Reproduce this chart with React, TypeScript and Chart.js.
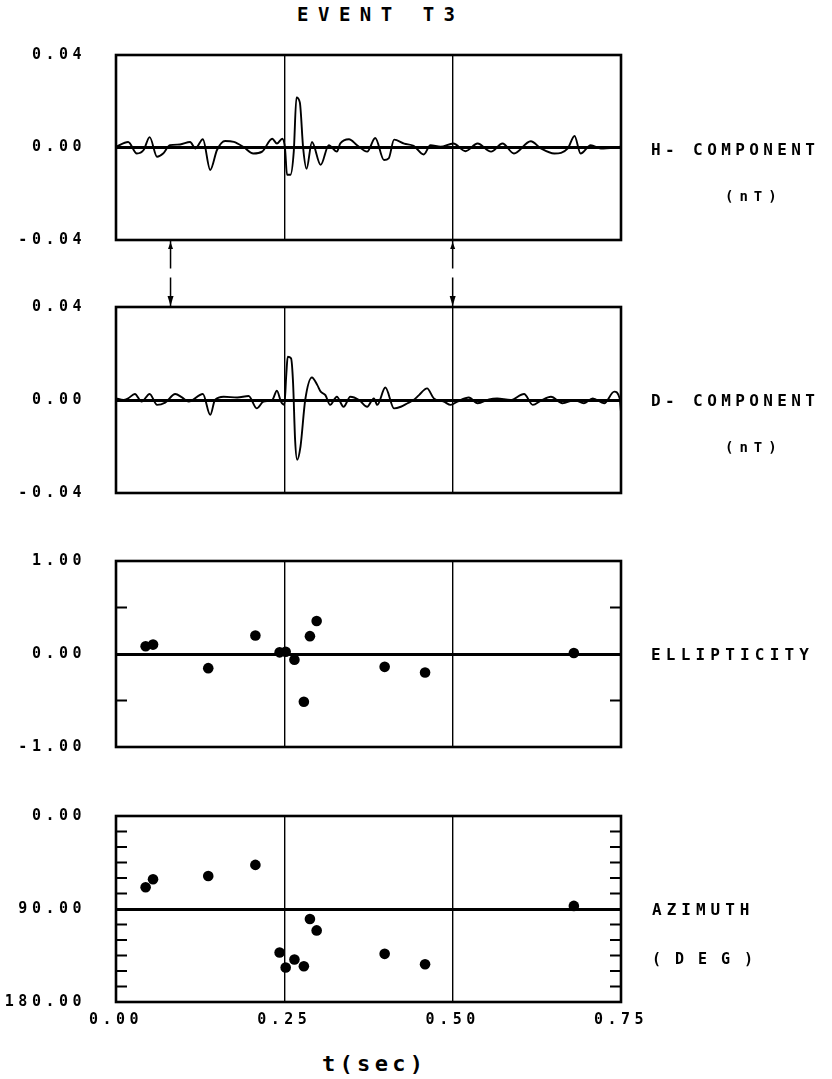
import React, { useEffect, useRef } from 'react';
import { Chart, registerables } from 'chart.js';

Chart.register(...registerables);

// ---------- data ----------
const hTimes = [0, 0.018, 0.031, 0.041, 0.05, 0.061, 0.07, 0.08, 0.095, 0.11, 0.118, 0.129, 0.14, 0.15, 0.162, 0.175, 0.189, 0.204, 0.217, 0.232, 0.239, 0.247, 0.251, 0.254, 0.259, 0.264, 0.268, 0.273, 0.278, 0.283, 0.291, 0.304, 0.316, 0.328, 0.333, 0.346, 0.358, 0.373, 0.385, 0.398, 0.405, 0.413, 0.428, 0.442, 0.457, 0.467, 0.482, 0.501, 0.519, 0.537, 0.557, 0.574, 0.591, 0.616, 0.631, 0.651, 0.671, 0.681, 0.69, 0.705, 0.72, 0.75];
const hValues = [0.0003, 0.0024, -0.0026, -0.0011, 0.0045, -0.004, -0.0026, 0.001, 0.0013, 0.0024, -0.0004, 0.0036, -0.0097, -0.0011, 0.0028, 0.0024, 0.0003, -0.0026, -0.0018, 0.0038, 0.0017, 0.0038, -0.0004, -0.0118, -0.0118, -0.0018, 0.0216, 0.0195, -0.0004, -0.0092, 0.0024, -0.0075, 0.001, -0.0018, 0.0017, 0.0036, 0.001, -0.0018, 0.0041, -0.0054, -0.0047, 0.0034, 0.0017, 0.0007, -0.003, 0.001, 0.0003, 0.0017, -0.0016, 0.0017, -0.0018, 0.0017, -0.0026, 0.0027, -0.0004, -0.0026, -0.0004, 0.005, -0.0026, 0.001, -0.0004, 0.0003];

const dTimes = [0, 0.011, 0.018, 0.028, 0.038, 0.05, 0.061, 0.073, 0.088, 0.098, 0.108, 0.129, 0.14, 0.147, 0.16, 0.18, 0.197, 0.209, 0.219, 0.232, 0.239, 0.245, 0.25, 0.253, 0.255, 0.26, 0.263, 0.266, 0.269, 0.274, 0.281, 0.291, 0.299, 0.304, 0.311, 0.318, 0.328, 0.338, 0.348, 0.361, 0.373, 0.383, 0.388, 0.4, 0.413, 0.423, 0.433, 0.442, 0.45, 0.462, 0.472, 0.487, 0.497, 0.507, 0.524, 0.537, 0.554, 0.566, 0.586, 0.606, 0.619, 0.631, 0.646, 0.663, 0.681, 0.695, 0.708, 0.725, 0.74, 0.748, 0.75];
const dValues = [0.0007, 0, 0.0007, 0.0026, -0.0007, 0.0026, -0.0021, -0.0011, 0.0026, 0.0011, -0.0007, 0.0026, -0.0064, 0, 0.0014, 0.0011, 0.0017, -0.0036, -0.0007, 0, 0.004, -0.0007, -0.0021, 0.0114, 0.0186, 0.0179, 0.0072, -0.0172, -0.0257, -0.02, 0, 0.0097, 0.0064, 0.0036, 0.0021, -0.0021, 0.0014, -0.0029, 0.0014, 0, -0.0029, 0.0007, -0.0021, 0.0054, -0.0036, -0.0029, -0.0014, 0, 0.0021, 0.005, 0.0007, -0.0007, -0.0021, -0.0007, 0.0011, -0.0014, 0.0003, 0.0007, 0, 0.0026, -0.0021, -0.0003, 0.0014, -0.0014, 0, -0.0014, 0.0007, -0.0014, 0.0036, 0.0007, -0.005];

const pointTimes = [0.044, 0.055, 0.137, 0.207, 0.243, 0.252, 0.265, 0.279, 0.288, 0.298, 0.399, 0.459, 0.68];
const ellipticity = [0.083, 0.101, -0.152, 0.199, 0.018, 0.025, -0.062, -0.514, 0.192, 0.355, -0.138, -0.199, 0.01];
const azimuth = [69.0, 61.2, 58.0, 47.3, 132.1, 146.6, 138.9, 145.4, 99.7, 110.7, 133.4, 143.4, 87.0];

const markerTimes = [0.081, 0.5];

const xMin = 0;
const xMax = 0.75;
const xStep = 0.25;

// ---------- styling helpers ----------
const MONO = "'DejaVu Sans Mono', monospace";
const tickFont = { family: MONO, size: 15, weight: 'bold' as const };

const near = (a: number, b: number) => Math.abs(a - b) < 1e-9;

const framePlugin = {
  id: 'frameAndTicks',
  beforeDraw(chart: any) {
    (chart.ctx as any).letterSpacing = '4.5px';
  },
  afterDraw(chart: any) {
    const { ctx, chartArea: a, scales } = chart;
    const y = scales.y;
    ctx.save();
    ctx.strokeStyle = '#000';
    ctx.lineWidth = 2;
    y.ticks.forEach((t: any, i: number) => {
      if (i === 0 || i === y.ticks.length - 1) return;
      const py = y.getPixelForValue(t.value);
      ctx.beginPath();
      ctx.moveTo(a.left, py);
      ctx.lineTo(a.left + 11, py);
      ctx.moveTo(a.right - 11, py);
      ctx.lineTo(a.right, py);
      ctx.stroke();
    });
    ctx.lineWidth = 2.6;
    ctx.strokeRect(a.left, a.top, a.right - a.left, a.bottom - a.top);
    ctx.restore();
  },
};

const markerPlugin = {
  id: 'markers',
  afterDraw(chart: any) {
    const { ctx, chartArea: a, scales } = chart;
    const x = scales.x;
    const y0 = a.bottom;
    const y1 = chart.height;
    const mid = (y0 + y1) / 2;
    ctx.save();
    ctx.strokeStyle = '#000';
    ctx.fillStyle = '#000';
    ctx.lineWidth = 1.5;
    markerTimes.forEach((t) => {
      const px = x.getPixelForValue(t);
      ctx.beginPath();
      ctx.moveTo(px, y0);
      ctx.lineTo(px, mid - 5);
      ctx.moveTo(px, mid + 4);
      ctx.lineTo(px, y1);
      ctx.stroke();
      ctx.beginPath();
      ctx.moveTo(px, y0 + 2);
      ctx.lineTo(px - 2.5, y0 + 9);
      ctx.lineTo(px + 2.5, y0 + 9);
      ctx.closePath();
      ctx.fill();
      ctx.beginPath();
      ctx.moveTo(px, y1 - 1);
      ctx.lineTo(px - 3, y1 - 11);
      ctx.lineTo(px + 3, y1 - 11);
      ctx.closePath();
      ctx.fill();
    });
    ctx.restore();
  },
};

type PanelSpec = {
  datasets: any[];
  yMin: number;
  yMax: number;
  yStep: number;
  yZero: number;
  yReverse?: boolean;
  labelAt: (v: number) => boolean;
  padTop: number;
  padBottom: number;
  showX: boolean;
  extraPlugins?: any[];
};

function makeConfig(p: PanelSpec): any {
  return {
    type: 'line',
    data: { datasets: p.datasets },
    options: {
      animation: false,
      responsive: false,
      devicePixelRatio: 1,
      layout: { padding: { left: 0, right: 211, top: p.padTop, bottom: p.padBottom } },
      plugins: { legend: { display: false }, tooltip: { enabled: false } },
      scales: {
        x: {
          type: 'linear',
          min: xMin,
          max: xMax,
          border: { display: false },
          afterFit: (axis: any) => {
            axis.height = p.showX ? 30 : 0;
            axis.paddingLeft = 0;
            axis.paddingRight = 0;
          },
          ticks: {
            display: p.showX,
            stepSize: xStep,
            padding: 9,
            color: '#000',
            font: tickFont,
            callback: (v: any) => Number(v).toFixed(2),
          },
          grid: {
            drawTicks: false,
            lineWidth: 1.4,
            color: (c: any) =>
              c.tick && (near(c.tick.value, xMin) || near(c.tick.value, xMax)) ? 'rgba(0,0,0,0)' : '#000',
          },
        },
        y: {
          type: 'linear',
          min: p.yMin,
          max: p.yMax,
          reverse: !!p.yReverse,
          border: { display: false },
          afterFit: (axis: any) => {
            axis.width = 116;
            axis.paddingTop = 0;
            axis.paddingBottom = 0;
          },
          ticks: {
            stepSize: p.yStep,
            maxTicksLimit: 40,
            autoSkip: false,
            padding: 30,
            color: '#000',
            font: tickFont,
            callback: (v: any) => (p.labelAt(Number(v)) ? Number(v).toFixed(2) : ''),
          },
          grid: {
            drawTicks: false,
            lineWidth: (c: any) => (c.tick && near(c.tick.value, p.yZero) ? 3 : 0),
            color: (c: any) => (c.tick && near(c.tick.value, p.yZero) ? '#000' : 'rgba(0,0,0,0)'),
          },
        },
      },
    },
    plugins: [framePlugin, ...(p.extraPlugins || [])],
  };
}

const lineDataset = (times: number[], values: number[]) => ({
  type: 'line',
  data: times.map((t, i) => ({ x: t, y: values[i] })),
  borderColor: '#000',
  borderWidth: 1.9,
  pointRadius: 0,
  cubicInterpolationMode: 'monotone',
  fill: false,
});

const pointDataset = (times: number[], values: number[]) => ({
  type: 'scatter',
  data: times.map((t, i) => ({ x: t, y: values[i] })),
  backgroundColor: '#000',
  borderColor: '#000',
  borderWidth: 0,
  pointRadius: 5.3,
  showLine: false,
});

const textBase: React.CSSProperties = {
  position: 'absolute',
  fontFamily: MONO,
  fontWeight: 'bold',
  color: '#000',
  whiteSpace: 'nowrap',
  lineHeight: '20px',
  height: 20,
};

function Label({ text, left, cy, size, spacing }: { text: string; left: number; cy: number; size: number; spacing: number }) {
  return (
    <div style={{ ...textBase, left, top: cy - 10, fontSize: size, letterSpacing: spacing }}>{text}</div>
  );
}

export default function App() {
  const r1 = useRef<HTMLCanvasElement>(null);
  const r2 = useRef<HTMLCanvasElement>(null);
  const r3 = useRef<HTMLCanvasElement>(null);
  const r4 = useRef<HTMLCanvasElement>(null);

  useEffect(() => {
    const waveLabel = (v: number) => true;
    const charts = [
      new Chart(r1.current as HTMLCanvasElement, makeConfig({
        datasets: [lineDataset(hTimes, hValues)],
        yMin: -0.04, yMax: 0.04, yStep: 0.04, yZero: 0, labelAt: waveLabel,
        padTop: 15, padBottom: 67, showX: false, extraPlugins: [markerPlugin],
      })),
      new Chart(r2.current as HTMLCanvasElement, makeConfig({
        datasets: [lineDataset(dTimes, dValues)],
        yMin: -0.04, yMax: 0.04, yStep: 0.04, yZero: 0, labelAt: waveLabel,
        padTop: 17, padBottom: 7, showX: false,
      })),
      new Chart(r3.current as HTMLCanvasElement, makeConfig({
        datasets: [pointDataset(pointTimes, ellipticity)],
        yMin: -1, yMax: 1, yStep: 0.5, yZero: 0,
        labelAt: (v: number) => near(v, Math.round(v)),
        padTop: 16, padBottom: 8, showX: false,
      })),
      new Chart(r4.current as HTMLCanvasElement, makeConfig({
        datasets: [pointDataset(pointTimes, azimuth)],
        yMin: 0, yMax: 180, yStep: 15, yZero: 90, yReverse: true,
        labelAt: (v: number) => near(v % 90, 0),
        padTop: 16, padBottom: 8, showX: true,
      })),
    ];
    return () => charts.forEach((c) => c.destroy());
  }, []);

  const cv = (top: number, height: number): React.CSSProperties => ({
    position: 'absolute', left: 0, top, width: 832, height,
  });

  return (
    <div style={{ position: 'absolute', left: 0, top: 0, width: 832, height: 1079, background: '#fff', overflow: 'hidden' }}>
      <canvas ref={r1} width={832} height={267} style={cv(40, 267)} />
      <canvas ref={r2} width={832} height={210} style={cv(290, 210)} />
      <canvas ref={r3} width={832} height={210} style={cv(545, 210)} />
      <canvas ref={r4} width={832} height={240} style={cv(800, 240)} />

      <Label text="EVENT T3" left={297} cy={14} size={19} spacing={9.5} />

      <Label text="H- COMPONENT" left={651} cy={150} size={16} spacing={4.4} />
      <Label text="(nT)" left={725} cy={196} size={14} spacing={6} />
      <Label text="D- COMPONENT" left={651} cy={401} size={16} spacing={4.4} />
      <Label text="(nT)" left={725} cy={447} size={14} spacing={6} />
      <Label text="ELLIPTICITY" left={651} cy={655} size={16} spacing={5.2} />
      <Label text="AZIMUTH" left={652} cy={910} size={16} spacing={5} />
      <Label text="(DEG)" left={652} cy={959} size={15} spacing={14} />

      <Label text="t(sec)" left={322} cy={1064} size={22} spacing={4.3} />
    </div>
  );
}
